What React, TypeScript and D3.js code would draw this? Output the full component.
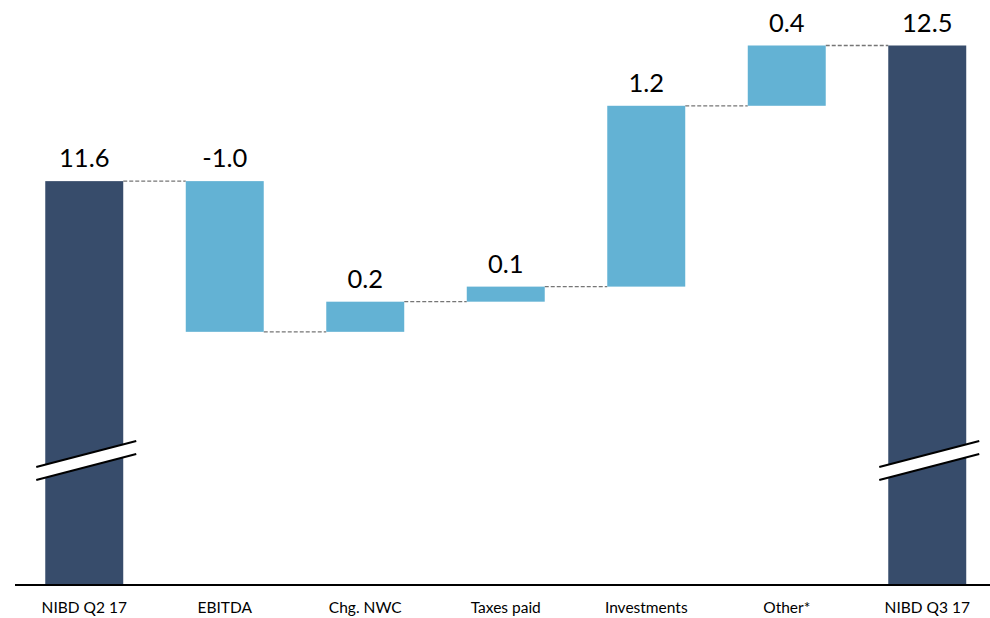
import React from "react";
import * as d3 from "d3";

// Net interest-bearing debt bridge, EUR bn
const categories = ["NIBD Q2 17", "EBITDA", "Chg. NWC", "Taxes paid", "Investments", "Other*", "NIBD Q3 17"];
const startValue = 11.6;
const deltas = [-1.0, 0.2, 0.1, 1.2, 0.4];
const endValue = 12.5;

const W = 990;
const H = 618;
const DARK = "#374C6B";
const LIGHT = "#63B2D4";
const FONT = "Lato, 'Open Sans', sans-serif";

// Value at which the axis is cut (bars for totals are drawn with a break mark)
const AXIS_FLOOR = 8.92;

type Step = { name: string; from: number; to: number; label: string; total: boolean };

function buildSteps(): Step[] {
  const steps: Step[] = [];
  steps.push({ name: categories[0], from: AXIS_FLOOR, to: startValue, label: startValue.toFixed(1), total: true });
  let run = startValue;
  deltas.forEach((d, i) => {
    const next = Math.round((run + d) * 10) / 10;
    steps.push({ name: categories[i + 1], from: run, to: next, label: d.toFixed(1), total: false });
    run = next;
  });
  steps.push({ name: categories[6], from: AXIS_FLOOR, to: endValue, label: endValue.toFixed(1), total: true });
  return steps;
}

export default function App() {
  const steps = buildSteps();
  const x = d3.scaleBand<string>().domain(categories).range([14, 997.5]).paddingInner(0.445).paddingOuter(0.2225);
  const y = d3.scaleLinear().domain([AXIS_FLOOR, 12.5]).range([585, 45.5]);
  const bw = x.bandwidth();

  // break marks on the total bars
  const breakMark = (cx: number) => {
    const x0 = cx - 48;
    const x1 = cx + 52;
    const yTop0 = 467, yTop1 = 441, gap = 13;
    return (
      <g key={"brk" + cx}>
        <polygon
          points={`${x0},${yTop0} ${x1},${yTop1} ${x1},${yTop1 + gap} ${x0},${yTop0 + gap}`}
          fill="#fff"
        />
        <line x1={x0} y1={yTop0} x2={x1} y2={yTop1} stroke="#000" strokeWidth={2} />
        <line x1={x0} y1={yTop0 + gap} x2={x1} y2={yTop1 + gap} stroke="#000" strokeWidth={2} />
      </g>
    );
  };

  return (
    <svg width={W} height={H} style={{ position: "absolute", left: 0, top: 0, background: "#fff" }} fontFamily={FONT}>
      {/* connectors */}
      {steps.slice(0, -1).map((s, i) => {
        const nx = x(steps[i + 1].name)!;
        const yy = y(s.to);
        return (
          <line
            key={"c" + i}
            x1={x(s.name)! + bw}
            x2={nx}
            y1={yy}
            y2={yy}
            stroke="#767676"
            strokeWidth={1.3}
            strokeDasharray="4,2"
          />
        );
      })}
      {steps.map((s) => {
        const top = Math.min(y(s.from), y(s.to));
        const bot = Math.max(y(s.from), y(s.to));
        return (
          <rect key={s.name} x={x(s.name)} y={top} width={bw} height={bot - top} fill={s.total ? DARK : LIGHT} />
        );
      })}
      {steps.filter((s) => s.total).map((s) => breakMark(x(s.name)! + bw / 2))}
      {steps.map((s) => (
        <text
          key={"v" + s.name}
          x={x(s.name)! + bw / 2}
          y={Math.min(y(s.from), y(s.to)) - 14}
          textAnchor="middle"
          fontSize={25.5}
          fill="#000"
        >
          {s.label}
        </text>
      ))}
      <line x1={15} x2={990} y1={585} y2={585} stroke="#000" strokeWidth={2} />
      {categories.map((c) => (
        <text key={"l" + c} x={x(c)! + bw / 2} y={613} textAnchor="middle" fontSize={15.5} fill="#000">
          {c}
        </text>
      ))}
    </svg>
  );
}
